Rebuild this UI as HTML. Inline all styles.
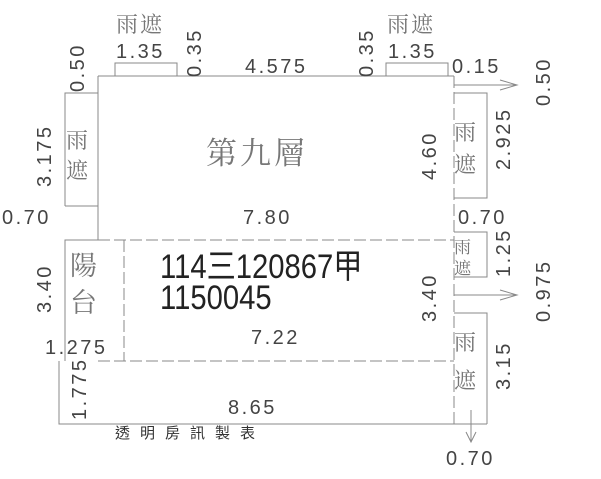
<!DOCTYPE html>
<html><head><meta charset="utf-8"><style>
html,body{margin:0;padding:0;background:#fff;width:601px;height:479px;overflow:hidden}
svg{display:block}
text{font-family:"Liberation Sans","Noto Sans CJK TC",sans-serif;fill:#444}
.c{font-family:"Noto Serif CJK SC","Noto Sans CJK TC",serif;fill:#777}
</style></head><body>
<svg width="601" height="479" viewBox="0 0 601 479">
<g stroke="#888" stroke-width="1" fill="none">
<line x1="98" y1="76" x2="454" y2="76"/>
<line x1="98" y1="76" x2="98" y2="240"/>
<line x1="98" y1="206" x2="65" y2="206"/>
<polyline points="115,76 115,63 177,63 177,76"/>
<polyline points="386,76 386,63 448,63 448,76"/>
<polyline points="98,93 65,93 65,206"/>
<polyline points="454,93 487,93 487,198 454,198"/>
<line x1="454" y1="85" x2="517" y2="85"/>
<polyline points="500,80 517,85 500,90"/>
<polyline points="65,361 65,240 98,240"/>
<polyline points="454,232 487,232 487,277 454,277"/>
<line x1="454" y1="295" x2="517" y2="295"/>
<polyline points="500,290 517,295 500,300"/>
<polyline points="454,313 487,313 487,424"/>
<polyline points="59,361 59,424 487,424"/>
<line x1="471" y1="410" x2="471" y2="442"/>
<polyline points="466,432 471,442 476,432"/>
</g>
<g stroke="#888" stroke-width="1" fill="none" stroke-dasharray="12,4">
<line x1="454" y1="76" x2="454" y2="424"/>
<line x1="98" y1="240" x2="454" y2="240"/>
<line x1="98" y1="361" x2="454" y2="361"/>
<line x1="124" y1="240" x2="124" y2="361"/>
<line x1="98" y1="93" x2="98" y2="206"/>
</g>
<g font-size="20" letter-spacing="2.5">
<text x="116" y="58">1.35</text>
<text x="245" y="73">4.575</text>
<text x="388" y="58">1.35</text>
<text x="452" y="73">0.15</text>
<text x="243" y="224">7.80</text>
<text x="2" y="224">0.70</text>
<text x="458" y="224">0.70</text>
<text x="251" y="344">7.22</text>
<text x="45" y="354">1.275</text>
<text x="228" y="414">8.65</text>
<text x="446" y="465">0.70</text>
<text transform="translate(84,92) rotate(-90)">0.50</text>
<text transform="translate(201,77) rotate(-90)">0.35</text>
<text transform="translate(373,77) rotate(-90)">0.35</text>
<text transform="translate(550,106) rotate(-90)">0.50</text>
<text transform="translate(51,187) rotate(-90)">3.175</text>
<text transform="translate(436,180) rotate(-90)">4.60</text>
<text transform="translate(510,170) rotate(-90)">2.925</text>
<text transform="translate(510,277) rotate(-90)">1.25</text>
<text transform="translate(550,322) rotate(-90)">0.975</text>
<text transform="translate(51,313) rotate(-90)">3.40</text>
<text transform="translate(436,322) rotate(-90)">3.40</text>
<text transform="translate(510,390) rotate(-90)">3.15</text>
<text transform="translate(86,420) rotate(-90)">1.775</text>
</g>
<g font-size="22">
<text class="c" x="116" y="32" letter-spacing="2">雨遮</text>
<text class="c" x="387" y="32" letter-spacing="2">雨遮</text>
<text class="c" x="66" y="148">雨</text>
<text class="c" x="66" y="178">遮</text>
<text class="c" x="454" y="140">雨</text>
<text class="c" x="454" y="172">遮</text>
<text class="c" x="454" y="253" font-size="17">雨</text>
<text class="c" x="454" y="274" font-size="17">遮</text>
<text class="c" x="454" y="350">雨</text>
<text class="c" x="454" y="388">遮</text>
<text class="c" x="206" y="164" font-size="31" letter-spacing="3">第九層</text>
<text class="c" x="70" y="275" font-size="27">陽</text>
<text class="c" x="70" y="312" font-size="27">台</text>
</g>
<text x="115" y="438" font-size="15" style="fill:#333" letter-spacing="10">透明房訊製表</text>
<g font-size="34" style="fill:#222" transform="translate(160,0) scale(0.86,1)">
<text x="0" y="278" style="fill:#222">114三120867甲</text>
<text x="0" y="309" style="fill:#222">1150045</text>
</g>
</svg>
</body></html>
